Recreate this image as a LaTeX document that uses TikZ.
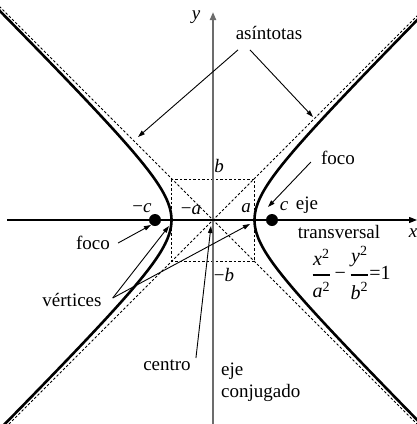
\documentclass[tikz,border=0pt]{standalone}
\usepackage{amsmath}
\usepackage{fontspec}
\setmainfont{Liberation Serif}
\usetikzlibrary{arrows.meta,calc}
\begin{document}
\begin{tikzpicture}[x=1pt,y=-1pt,
  lbl/.style={font=\fontsize{19}{22}\selectfont, inner sep=1pt},
  ptr/.style={line width=0.9pt, -{Triangle[length=7pt,width=4.5pt]}},
  asym/.style={line width=0.9pt, dash pattern=on 2.5pt off 2pt},
  hyp/.style={line width=2.6pt},
  dot/.style={circle, fill=black, inner sep=0pt, minimum size=12pt},
]
\useasboundingbox (0,0) rectangle (417,424);
\coordinate (O) at (213,220);
\begin{scope}
\clip (0,0) rectangle (417,424);
% asymptotes and box
\draw[asym] ($(O)+(-220,-220)$) -- ($(O)+(220,220)$);
\draw[asym] ($(O)+(-220,220)$) -- ($(O)+(220,-220)$);
\draw[asym] (171.5,179) rectangle (254.5,261);
% axes
\draw[gray!85!black, line width=2pt, -{Triangle[length=8pt,width=6pt]}] (213,430) -- (213,12);
\draw[line width=1.2pt, -{Triangle[length=8pt,width=6pt]}] (7,220) -- (417,220);
% hyperbola
\draw[hyp] plot[domain=-2.35:2.35, samples=90, smooth, variable=\t] ({213+41.5*cosh(\t)},{220+41.5*sinh(\t)});
\draw[hyp] plot[domain=-2.35:2.35, samples=90, smooth, variable=\t] ({213-41.5*cosh(\t)},{220+41.5*sinh(\t)});
\end{scope}
% foci
\node[dot] (F1) at (155,220) {};
\node[dot] (F2) at (272,220) {};
\coordinate (V1) at (171.5,220);
\coordinate (V2) at (254.5,220);
% labels
\node[lbl] (yl) at (196,17) {\textit{y}};
\node[lbl] (xl) at (413,233) {\textit{x}};
\node[lbl] (asint) at (269,33) {asíntotas};
\node[lbl] (bl) at (219,166) {\textit{b}};
\node[lbl] (mbl) at (224,275) {−\textit{b}};
\node[lbl] (mal) at (191,210) {−\textit{a}};
\node[lbl] (al) at (246,208) {\textit{a}};
\node[lbl] (mcl) at (142,208) {−\textit{c}};
\node[lbl] (cl) at (284,206) {\textit{c}};
\node[lbl] (eje1) at (307,205) {eje};
\node[lbl] (transv) at (339,232) {transversal};
\node[lbl, font=\fontsize{20}{23}\selectfont, inner sep=0pt] (eq) at (351,273) {$\genfrac{}{}{2.2pt}{0}{\text{\itshape x}^{\text{2}}}{\text{\itshape a}^{\text{2}}}\,\text{−}\,\genfrac{}{}{2.2pt}{0}{\text{\itshape y}^{\text{2}}}{\text{\itshape b}^{\text{2}}}\text{=1}$};
\node[lbl] (foco2) at (338,158) {foco};
\node[lbl] (foco1) at (93,243) {foco};
\node[lbl] (vert) at (72,300) {vértices};
\node[lbl] (centro) at (167,365) {centro};
\node[lbl, align=left, anchor=north west] (ejec) at (220,362) {eje\\conjugado};
% pointers
\coordinate (a1) at (138,137);
\coordinate (a2) at (313,117);
\coordinate (f1t) at (151,225);
\coordinate (f2t) at (268,207);
\coordinate (v1t) at (169,226);
\coordinate (v2t) at (250,224);
\coordinate (ct) at (211,226);
\draw[ptr] ($(asint.south)+(-31,9)$) -- (a1);
\draw[ptr] ($(asint.south)+(-19,9)$) -- (a2);
\draw[ptr] ($(foco2.west)+(-9,4)$) -- (f2t);
\draw[ptr] ($(foco1.east)+(7,0)$) -- (f1t);
\draw[ptr] ($(vert.east)+(10,-2)$) -- (v1t);
\draw[ptr] ($(vert.east)+(10,-2)$) -- (v2t);
\draw[ptr] ($(centro.east)+(4,-7)$) -- (ct);
\end{tikzpicture}
\end{document}
